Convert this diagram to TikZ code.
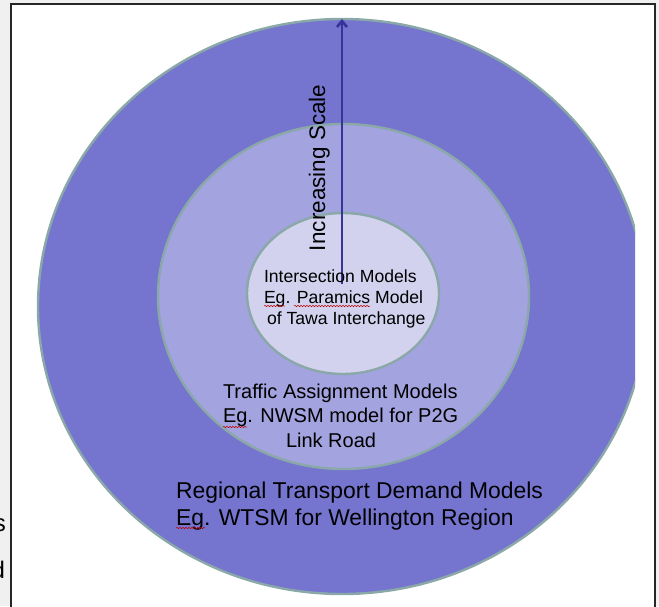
\documentclass[tikz,border=0pt]{standalone}
\usepackage{fontspec}
\setmainfont{Liberation Sans}
\usetikzlibrary{arrows.meta,decorations.pathmorphing}
\definecolor{pagebg}{HTML}{F0F0F0}
\definecolor{ringedge}{HTML}{8AA8A8}
\definecolor{outerfill}{HTML}{7575CF}
\definecolor{midfill}{HTML}{A3A3DF}
\definecolor{innerfill}{HTML}{D2D2EF}
\definecolor{arrowblue}{HTML}{34349A}
\tikzset{
  ring/.style={draw=ringedge,line width=2.4pt},
  lbl/.style={inner sep=0pt,outer sep=0pt,anchor=base west,align=left,text=black},
  squiggle/.style={draw=red!75!black,line width=0.5pt,decorate,decoration={snake,amplitude=0.7pt,segment length=3pt}},
}
\begin{document}
\begin{tikzpicture}[x=1pt,y=-1pt]
\useasboundingbox (0,0) rectangle (659,606);
\fill[pagebg] (0,0) rectangle (659,606);
\fill[white] (11,4) rectangle (655,606);
\draw[black!85,line width=1.4pt] (11,610) -- (11,4) -- (655,4) -- (655,610);
\begin{scope}
  \clip (11,4) rectangle (635,606);
  \draw[ring,fill=outerfill] (342,306.5) ellipse [x radius=304,y radius=287.5];
\end{scope}
\draw[ring,fill=midfill] (343.5,296.5) ellipse [x radius=185.5,y radius=172.5];
\draw[ring,fill=innerfill] (343,293.5) ellipse [x radius=96,y radius=80.5];
\coordinate (arrowstart) at (342,284);
\coordinate (arrowend) at (342,19);
\draw[arrowblue,line width=2.6pt,-{Straight Barb[length=6pt,width=10pt]}] (arrowstart) -- (arrowend);
\node[lbl,rotate=90,font=\fontsize{22.5}{27}\selectfont] (scale) at (325,251) {Increasing Scale};
\node[lbl,font=\fontsize{17.6}{21}\selectfont] (inner) at (264,324) {Intersection Models\\Eg. Paramics Model\\\hspace*{3pt}of Tawa Interchange};
\node[lbl,font=\fontsize{20}{24.5}\selectfont] (mid) at (223,447) {Traffic Assignment Models\\Eg. NWSM model for P2G\\\hspace*{63pt}Link Road};
\node[lbl,font=\fontsize{22.9}{27}\selectfont] (outer) at (176,525) {Regional Transport Demand Models\\Eg. WTSM for Wellington Region};
\node[lbl,font=\fontsize{24}{28}\selectfont,anchor=base east] (cuts) at (6,531) {s};
\node[lbl,font=\fontsize{24}{28}\selectfont,anchor=base east] (cutd) at (5,578) {d};
\draw[squiggle] (264,306) -- (285,306);
\draw[squiggle] (294,306) -- (370,306);
\draw[squiggle] (223,427) -- (247,427);
\draw[squiggle] (176,528) -- (205,528);
\end{tikzpicture}
\end{document}
